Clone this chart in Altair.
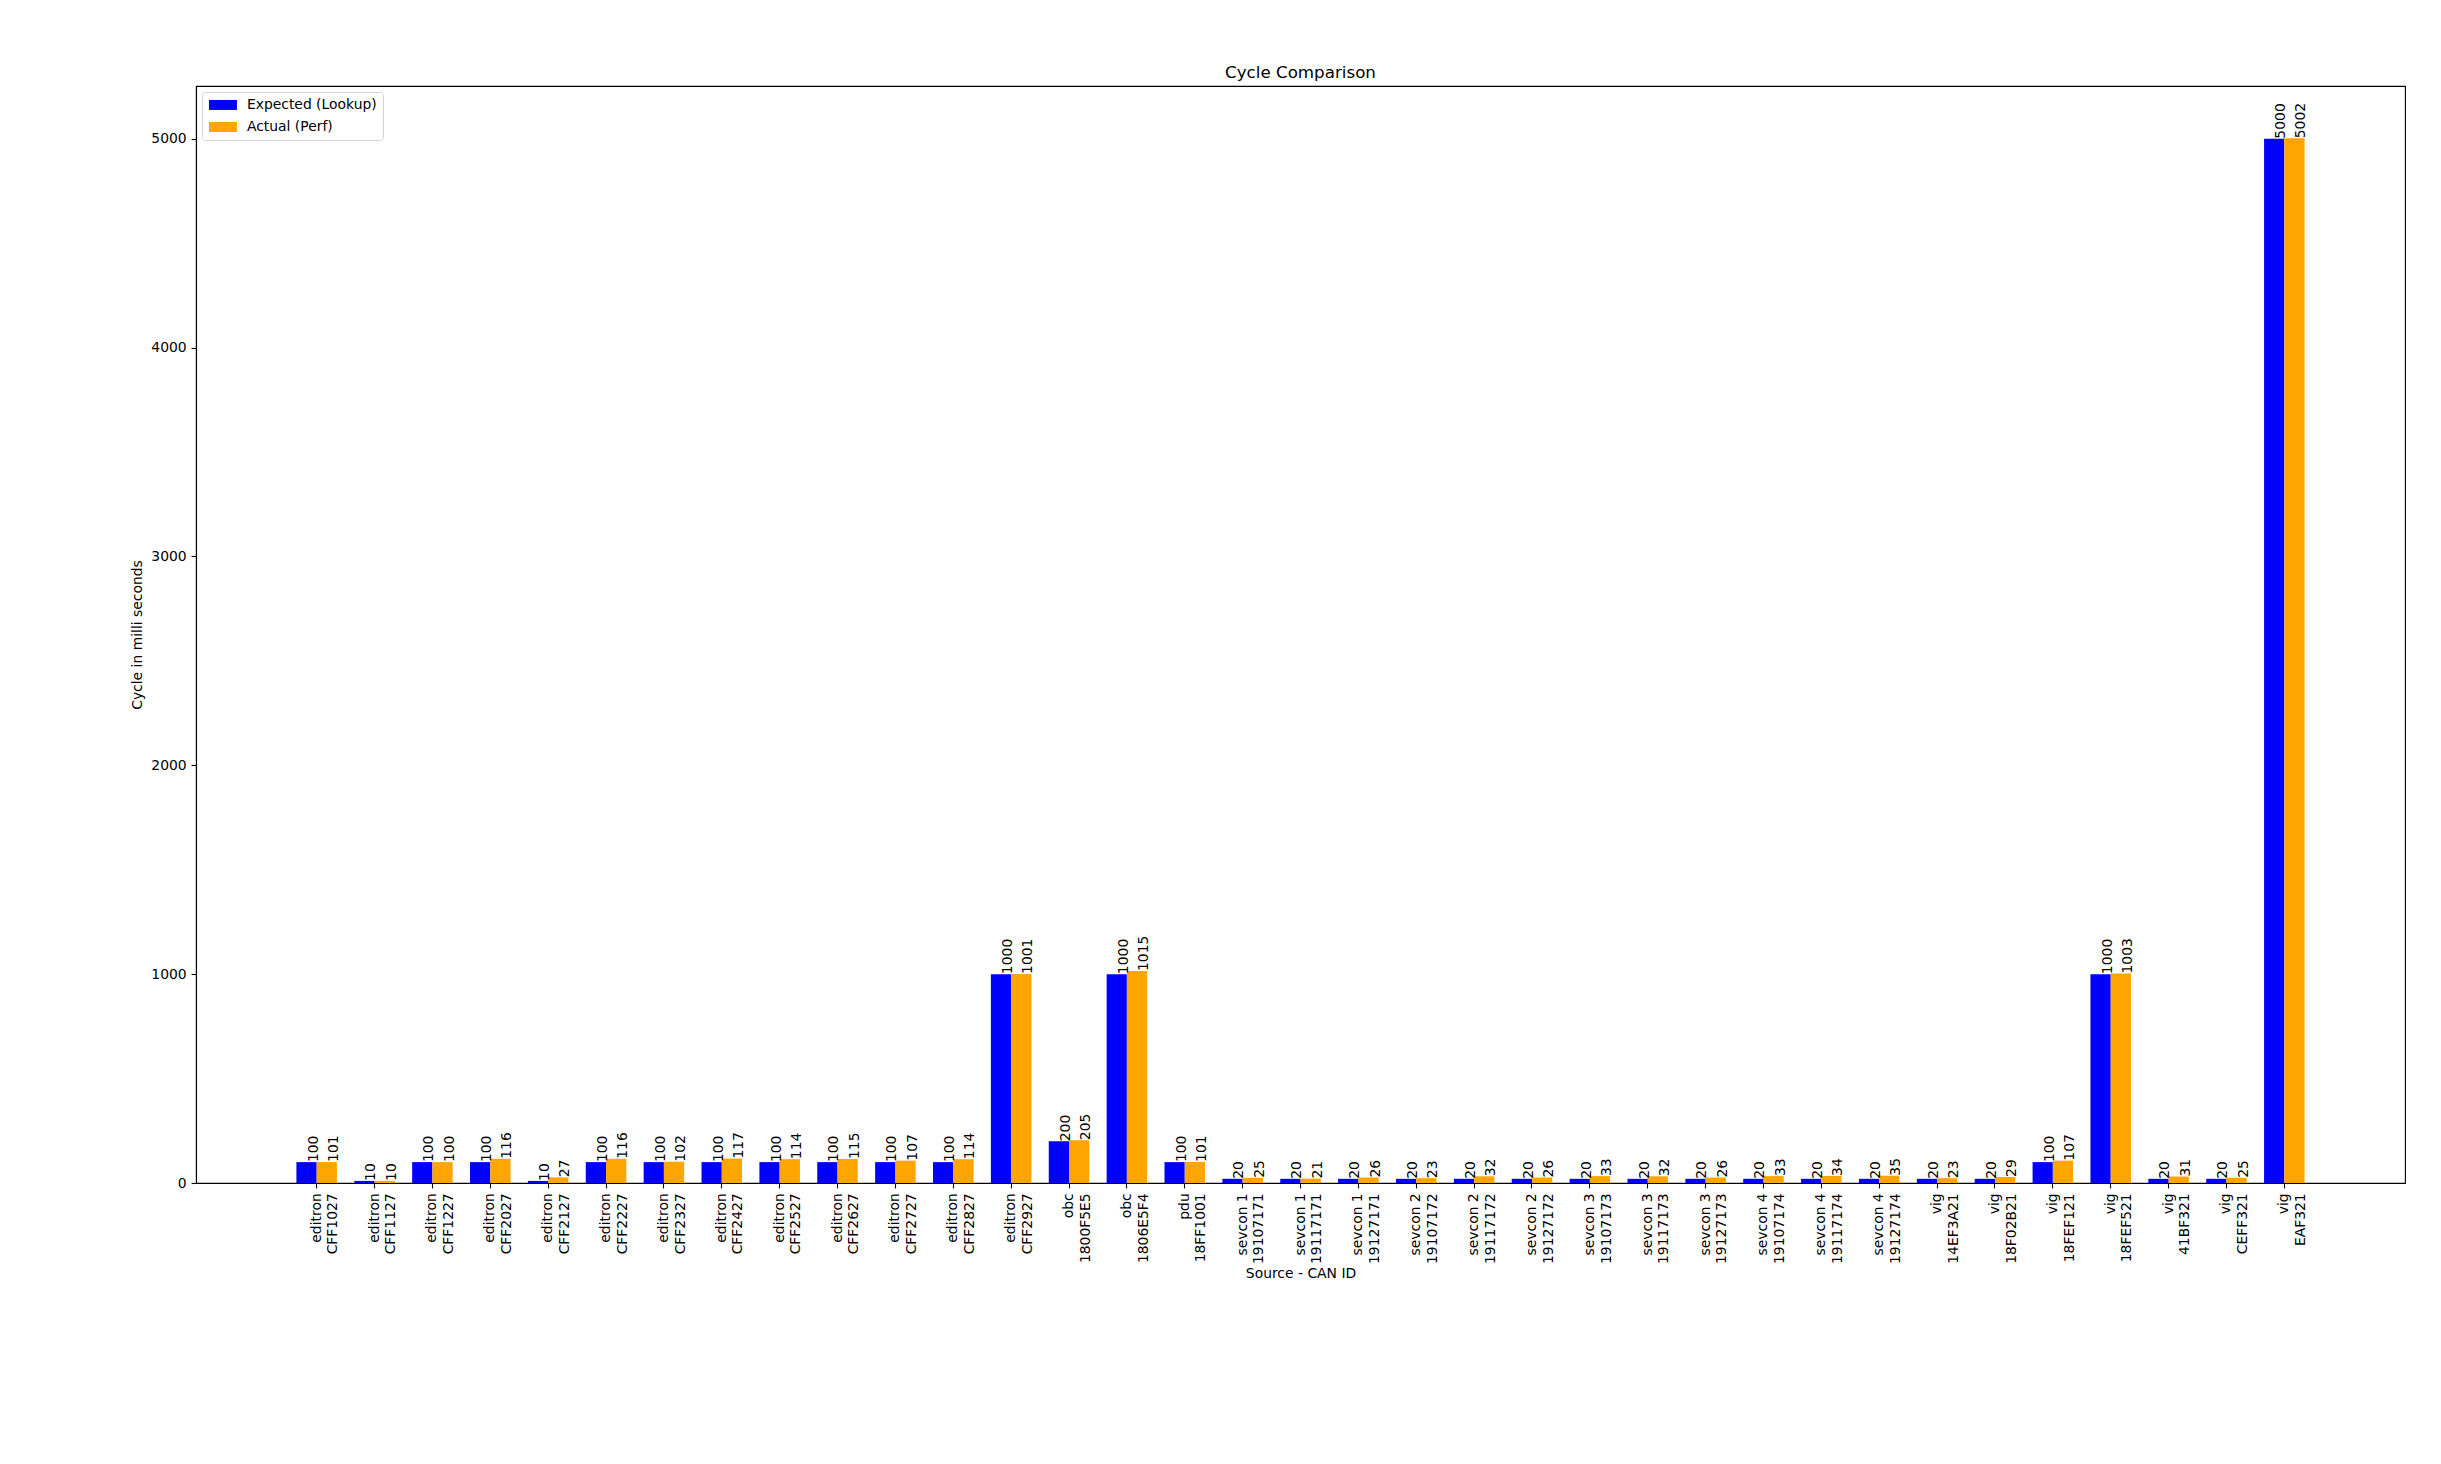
import altair as alt
import pandas as pd

sources = (["editron"] * 13 + ["obc", "obc", "pdu"]
           + ["sevcon 1"] * 3 + ["sevcon 2"] * 3 + ["sevcon 3"] * 3 + ["sevcon 4"] * 3
           + ["vig"] * 7)
can_ids = ["CFF1027", "CFF1127", "CFF1227", "CFF2027", "CFF2127", "CFF2227", "CFF2327",
           "CFF2427", "CFF2527", "CFF2627", "CFF2727", "CFF2827", "CFF2927",
           "1800F5E5", "1806E5F4", "18FF1001",
           "19107171", "19117171", "19127171",
           "19107172", "19117172", "19127172",
           "19107173", "19117173", "19127173",
           "19107174", "19117174", "19127174",
           "14EF3A21", "18F02B21", "18FEF121", "18FEF521", "41BF321", "CEFF321", "EAF321"]
expected = [100, 10, 100, 100, 10, 100, 100, 100, 100, 100, 100, 100, 1000,
            200, 1000, 100,
            20, 20, 20, 20, 20, 20, 20, 20, 20, 20, 20, 20,
            20, 20, 100, 1000, 20, 20, 5000]
actual = [101, 10, 100, 116, 27, 116, 102, 117, 114, 115, 107, 114, 1001,
          205, 1015, 101,
          25, 21, 26, 23, 32, 26, 33, 32, 26, 33, 34, 35,
          23, 29, 107, 1003, 31, 25, 5002]
series_names = ["Expected (Lookup)", "Actual (Perf)"]
series_colors = ["#0000ff", "#ffa500"]
y_ticks = [0, 1000, 2000, 3000, 4000, 5000]

keys = [f"{s}|{c}" for s, c in zip(sources, can_ids)]
rows = []
for k, e, a in zip(keys, expected, actual):
    rows.append({"key": k, "series": series_names[0], "value": e})
    rows.append({"key": k, "series": series_names[1], "value": a})
df = pd.DataFrame(rows)

FONT = "DejaVu Sans"
FS = 13.9
W, H = 2209, 1097
# matplotlib-like x margins: bands occupy n - 0.3 steps, 1.735 steps empty on each side
n = len(keys)
step = W / (n - 0.3 + 2 * 1.735)
x_range = [1.735 * step, W - 1.735 * step]

x_enc = alt.X("key:N", sort=keys, title="Source - CAN ID",
              scale=alt.Scale(paddingInner=0.3, paddingOuter=0, range=x_range),
              axis=alt.Axis(labelAngle=270, labelExpr="split(datum.value, '|')",
                            labelLineHeight=16.7, bandPosition=0.5, titlePadding=3))
xo_enc = alt.XOffset("series:N", sort=series_names,
                     scale=alt.Scale(paddingInner=0, paddingOuter=0))
y_enc = alt.Y("value:Q", title="Cycle in milli seconds",
              scale=alt.Scale(domain=[0, 5252], nice=False, zero=True),
              axis=alt.Axis(values=y_ticks, format="d", titlePadding=6))

base = alt.Chart(df).encode(x=x_enc, xOffset=xo_enc, y=y_enc)

bars = base.mark_bar().encode(
    color=alt.Color("series:N", sort=series_names,
                    scale=alt.Scale(domain=series_names, range=series_colors),
                    legend=alt.Legend(title=None, orient="none", legendX=6, legendY=6,
                                      symbolType="M-2.8,-1L2.8,-1L2.8,1L-2.8,1Z",
                                      symbolSize=100, symbolStrokeWidth=0,
                                      symbolOffset=8, labelOffset=17,
                                      labelFont=FONT, labelFontSize=FS, labelColor="black",
                                      strokeColor="#d5d5d5", fillColor="white",
                                      cornerRadius=3, padding=6, rowPadding=7))
)

labels = base.mark_text(angle=270, align="left", baseline="top", font=FONT,
                        fontSize=FS, color="black").encode(
    text=alt.Text("value:Q", format="d")
)

chart = alt.layer(bars, labels).properties(
    width=W, height=H,
    autosize=alt.AutoSizeParams(type="none"),
    padding={"left": 188, "top": 78, "right": 28, "bottom": 265},
    title=alt.TitleParams("Cycle Comparison", font=FONT, fontSize=16.7, fontWeight="normal",
                          anchor="middle", frame="group", baseline="alphabetic",
                          offset=8, dy=17, color="black"),
).configure_view(
    stroke="black", strokeWidth=1.1
).configure_axis(
    domainColor="black", domainWidth=1.1, tickColor="black", tickWidth=1.1, tickSize=4.9,
    labelPadding=4.9, labelFont=FONT, labelFontSize=FS, labelColor="black",
    titleFont=FONT, titleFontSize=FS, titleFontWeight="normal", titleColor="black",
    grid=False
)

chart.save("out.html", embed_options={"renderer": "svg", "actions": False})
